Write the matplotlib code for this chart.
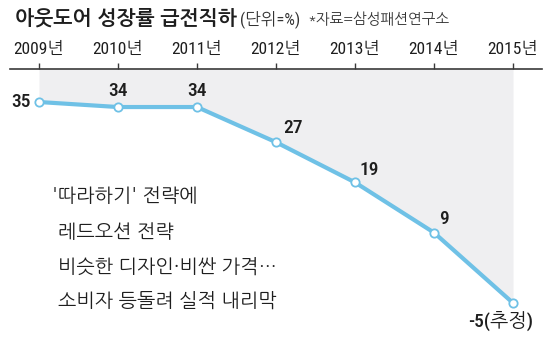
import numpy as np
import matplotlib.pyplot as plt

# 데이터
years = ['2009년', '2010년', '2011년', '2012년', '2013년', '2014년', '2015년']
growth = [35, 34, 34, 27, 19, 9, -5]
value_labels = ['35', '34', '34', '27', '19', '9', '-5(추정)']
notes = ["'따라하기' 전략에", '레드오션 전략', '비슷한 디자인·비싼 가격…', '소비자 등돌려 실적 내리막']

narrow = ['Roboto Condensed', 'NanumGothic', 'Noto Sans CJK KR', 'DejaVu Sans']
kr = ['NanumGothic', 'Noto Sans CJK KR', 'DejaVu Sans']
plt.rcParams['font.family'] = kr

line_col = '#6fc1e6'
fill_col = '#efeff1'
txt_col = '#1e1e1e'

fig = plt.figure(figsize=(5.5, 3.47), dpi=100)
fig.patch.set_facecolor('white')

# 축 영역: 위쪽 선 y=69px, 아래 figure 끝
ax = fig.add_axes([10 / 550, 0, 532 / 550, (347 - 69) / 347])
x = np.arange(len(years))
ax.set_xlim(-0.367, len(years) - 1 + 0.367)
ax.set_ylim(-13.76, 41.57)

# 회색 배경 (선 위쪽)
ax.fill_between(x, growth, 41.57, color=fill_col, lw=0, zorder=1)
ax.plot(x, growth, color=line_col, lw=3.0, zorder=3, solid_capstyle='round')
ax.plot(x, growth, 'o', ms=6, mfc='white', mec=line_col, mew=1.3, zorder=4)

# 축 꾸미기
for s in ['left', 'right', 'bottom']:
    ax.spines[s].set_visible(False)
ax.spines['top'].set_color('#3a3a3a')
ax.spines['top'].set_linewidth(1.2)
ax.xaxis.tick_top()
ax.set_xticks(x)
ax.set_xticklabels(years, family=narrow, fontsize=12.5, color=txt_col)
ax.tick_params(axis='x', direction='out', length=4, width=1, color='#3a3a3a', pad=5)
ax.set_yticks([])

# 값 라벨 (dx, dy, 정렬)
offsets = [(-0.1, 0, 'right', 'center'),
           (0, 1.4, 'center', 'bottom'),
           (0, 1.4, 'center', 'bottom'),
           (0.09, 1.0, 'left', 'bottom'),
           (0.06, 0.6, 'left', 'bottom'),
           (0.06, 1.0, 'left', 'bottom'),
           (-0.16, -1.6, 'center', 'top')]
for xi, yi, lab, (dx, dy, ha, va) in zip(x, growth, value_labels, offsets):
    ax.text(xi + dx, yi + dy, lab, ha=ha, va=va, fontsize=14,
            family=narrow, fontweight='medium', color=txt_col, zorder=5)

# 설명 문구
note_pos = [(52, 196), (58, 231), (58, 266), (58, 300)]
for (px, py), t in zip(note_pos, notes):
    fig.text(px / 550, 1 - py / 347, t, ha='left', va='center',
             fontsize=14, color=txt_col)

# 제목
fig.text(15 / 550, 1 - 18 / 347, '아웃도어 성장률 급전직하', ha='left', va='center',
         fontsize=14.7, fontweight='bold', color=txt_col)
fig.text(240 / 550, 1 - 19 / 347, '(단위=%)', ha='left', va='center',
         fontsize=12, color='#333333', family=narrow)
fig.text(307 / 550, 1 - 19 / 347, '*자료=삼성패션연구소', ha='left', va='center',
         fontsize=10.5, color='#333333')

fig.savefig('out.png', dpi=100)
